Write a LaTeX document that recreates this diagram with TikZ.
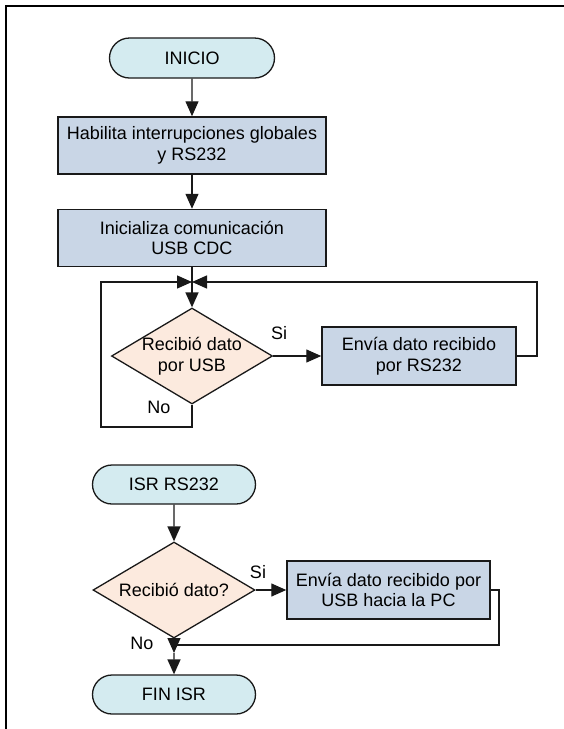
\documentclass[tikz,border=0pt]{standalone}
\usepackage{fontspec}
\setmainfont{Liberation Sans}
\usetikzlibrary{shapes.geometric,shapes.misc,arrows.meta}

\definecolor{termfill}{RGB}{212,235,240}
\definecolor{procfill}{RGB}{201,214,230}
\definecolor{decfill}{RGB}{252,234,222}
\definecolor{edge}{RGB}{25,25,25}

\tikzset{
  chartfont/.style={font=\fontsize{18}{20.7}\selectfont},
  term/.style={rounded rectangle, draw=edge, line width=1.3pt, fill=termfill,
    minimum width=165pt, minimum height=40pt, inner sep=0pt, chartfont},
  proc/.style={rectangle, draw=edge, line width=1.5pt, fill=procfill,
    minimum height=57pt, inner sep=0pt, align=center, chartfont},
  decision/.style={diamond, draw=edge, line width=1.3pt, fill=decfill,
    minimum width=161pt, minimum height=96pt, inner sep=0pt},
  dtext/.style={align=center, chartfont, inner sep=0pt},
  tag/.style={chartfont, inner sep=0pt},
  flow/.style={draw=edge, line width=1.4pt, -{Triangle[length=15pt,width=13pt]}},
  link/.style={draw=edge, line width=1.4pt},
}

\begin{document}
\begin{tikzpicture}[x=1pt, y=-1pt]
  \useasboundingbox (0,0) rectangle (564,729);

  % outer frame (top and left sides)
  \draw[line width=2.4pt, black] (6,729) -- (6,6) -- (564,6);

  % ---- main program ----
  \node[term] (inicio) at (192,58) {INICIO};
  \node[proc, minimum width=268pt] (hab) at (192,145.5)
    {Habilita interrupciones globales\\y RS232};
  \node[proc, minimum width=268pt] (ini) at (192,238)
    {Inicializa comunicación\\USB CDC};
  \node[decision] (d1) at (192,356) {};
  \node[dtext] (d1t) at (d1.center) {Recibió dato\\por USB};
  \node[proc, minimum width=194pt, minimum height=58pt] (env1) at (419,356)
    {Envía dato recibido\\por RS232};

  \coordinate (m1) at (192,282);
  \coordinate (lb) at (192,427);
  \coordinate (ll) at (101,427);
  \coordinate (lt) at (101,282);
  \coordinate (rr) at (537,356);
  \coordinate (rt) at (537,282);

  \draw[flow] (inicio) -- (hab);
  \draw[flow] (hab) -- (ini);
  \draw[flow] (ini) -- (d1);
  \draw[flow] (d1) -- (env1);
  \draw[flow] (d1.south) -- (lb) -- (ll) -- (lt) -- (m1);
  \draw[flow] (env1.east) -- (rr) -- (rt) -- (m1);

  \node[tag] (si1) at (279,333) {Si};
  \node[tag] (no1) at (159,407) {No};

  % ---- RS232 interrupt routine ----
  \node[term, minimum width=163pt, minimum height=39pt] (isr) at (174,484.5) {ISR RS232};
  \node[decision, minimum width=162pt] (d2) at (174,590) {};
  \node[dtext] (d2t) at (d2.center) {Recibió dato?};
  \node[proc, minimum width=203pt, minimum height=58pt] (env2) at (388.5,590)
    {Envía dato recibido por\\USB hacia la PC};
  \node[term, minimum width=163pt, minimum height=39pt] (fin) at (174,694.5) {FIN ISR};

  \coordinate (j2) at (174,645);
  \coordinate (jt) at (174,653);
  \coordinate (r2) at (499,590);
  \coordinate (r2b) at (499,645);

  \draw[flow] (isr) -- (d2);
  \draw[flow] (d2) -- (env2);
  \draw[link] (env2.east) -- (r2) -- (r2b) -- (j2);
  \draw[flow] (d2.south) -- (jt);
  \draw[flow] (jt) -- (fin);

  \node[tag] (si2) at (258,572) {Si};
  \node[tag] (no2) at (142,643) {No};
\end{tikzpicture}
\end{document}
